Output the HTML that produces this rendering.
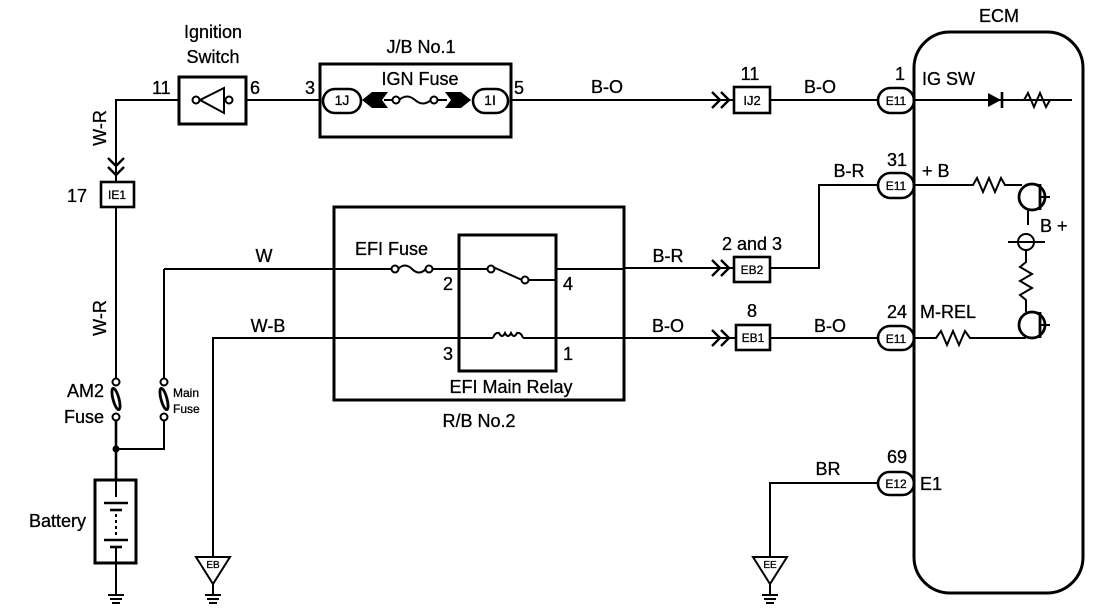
<!DOCTYPE html>
<html><head><meta charset="utf-8"><style>
html,body{margin:0;padding:0;background:#fff}
svg{display:block}
text{font-family:"Liberation Sans",sans-serif;fill:#000;stroke:#000;stroke-width:0.3}
</style></head><body>
<svg width="1104" height="612" viewBox="0 0 1104 612" xmlns="http://www.w3.org/2000/svg">
<g stroke="#000" stroke-width="2" fill="none">
<polyline points="179,100 116,100 116,182"/>
<polyline points="108,158 116,166 124,158" stroke-width="2.4"/>
<polyline points="108,167 116,175 124,167" stroke-width="2.4"/>
<rect x="101" y="182" width="33" height="25" stroke-width="2.6"/>
<line x1="116" y1="207" x2="116" y2="379"/>
<rect x="179" y="77" width="67" height="47" stroke-width="3"/>
<circle cx="196" cy="100" r="3.5"/>
<polygon points="200,100 224,88 224,113"/>
<circle cx="229" cy="100" r="3.5"/>
<line x1="246" y1="100" x2="320" y2="100"/>
<rect x="320" y="64" width="191" height="73" stroke-width="3"/>
<rect x="323" y="89" width="38" height="24" rx="12" stroke-width="2.6"/>
<rect x="473" y="89" width="35" height="24" rx="12" stroke-width="2.6"/>
<circle cx="396" cy="100" r="3.5"/>
<circle cx="434" cy="100" r="3.5"/>
<path d="M399,100 q8,-7 16,0 q8,7 16,0"/>
<line x1="384" y1="100" x2="393" y2="100"/>
<line x1="437" y1="100" x2="447" y2="100"/>
<line x1="511" y1="100" x2="734" y2="100"/>
<polyline points="712,92 720,100 712,108" stroke-width="2.4"/>
<polyline points="721,92 729,100 721,108" stroke-width="2.4"/>
<rect x="734" y="87" width="36" height="26" stroke-width="2.6"/>
<line x1="770" y1="100" x2="878" y2="100"/>
<rect x="878" y="88" width="36" height="25" rx="12.5" stroke-width="2.6"/>
<rect x="914" y="32" width="169" height="561" rx="36" stroke-width="3"/>
<line x1="914" y1="100" x2="1072" y2="100"/>
<line x1="1002" y1="92" x2="1002" y2="108" stroke-width="2.6"/>
<polyline points="1020,100 1024,100 1028,93 1034,107 1040,93 1046,107 1050,100 1072,100"/>
<rect x="878" y="173" width="36" height="25" rx="12.5" stroke-width="2.6"/>
<polyline points="878,185 819,185 819,268 770,268"/>
<rect x="734" y="257" width="36" height="25" stroke-width="2.6"/>
<polyline points="712,260 720,268 712,276" stroke-width="2.4"/>
<polyline points="721,260 729,268 721,276" stroke-width="2.4"/>
<line x1="624" y1="268" x2="734" y2="268"/>
<polyline points="914,185 973,185 977,178 983,192 989,178 995,192 1001,178 1005,185 1022,185"/>
<circle cx="1032" cy="197" r="13" stroke-width="2.8"/>
<line x1="1040" y1="184" x2="1040" y2="210" stroke-width="2.8"/>
<line x1="1040" y1="197" x2="1050" y2="197"/>
<line x1="1028" y1="210" x2="1028" y2="225"/>
<circle cx="1026" cy="242" r="8"/>
<line x1="1008" y1="242" x2="1045" y2="242"/>
<polyline points="1026,250 1026,262 1020,267 1032,274 1020,281 1032,288 1020,295 1026,300 1026,312"/>
<circle cx="1032" cy="325" r="13" stroke-width="2.8"/>
<line x1="1040" y1="312" x2="1040" y2="338" stroke-width="2.8"/>
<line x1="1040" y1="325" x2="1050" y2="325"/>
<rect x="878" y="326" width="36" height="24" rx="12" stroke-width="2.6"/>
<polyline points="914,338 936,338 941,331 947,345 953,331 959,345 965,331 970,338 1026,338"/>
<line x1="770" y1="338" x2="878" y2="338"/>
<rect x="736" y="325" width="34" height="25" stroke-width="2.6"/>
<polyline points="712,330 720,338 712,346" stroke-width="2.4"/>
<polyline points="721,330 729,338 721,346" stroke-width="2.4"/>
<line x1="556" y1="338" x2="736" y2="338"/>
<rect x="878" y="472" width="36" height="23" rx="11.5" stroke-width="2.6"/>
<polyline points="878,483 770,483 770,557"/>
<polygon points="753,557 787,557 770,584"/>
<line x1="770" y1="584" x2="770" y2="595"/>
<line x1="762" y1="595" x2="778" y2="595"/>
<line x1="764" y1="599" x2="776" y2="599"/>
<line x1="766" y1="603" x2="774" y2="603"/>
<rect x="334" y="207" width="290" height="193" stroke-width="3"/>
<rect x="459" y="235" width="97" height="136" stroke-width="3"/>
<line x1="164" y1="269" x2="392" y2="269"/>
<circle cx="395" cy="269" r="3.5"/>
<circle cx="429" cy="269" r="3.5"/>
<path d="M398,269 q7,-7 14,0 q7,7 14,0"/>
<line x1="432" y1="269" x2="488" y2="269"/>
<circle cx="491" cy="269" r="3.5"/>
<line x1="493" y1="267" x2="522" y2="280"/>
<circle cx="525" cy="280" r="3.5"/>
<polyline points="528,280 556,280 556,269 624,269"/>
<polyline points="213,557 213,338 493,338"/>
<path d="M493,338 q2,-6 6,-5 q3,6 6,0 q3,6 6,0 q3,6 6,0 q4,-1 6,5"/>
<line x1="523" y1="338" x2="556" y2="338"/>
<polygon points="196,557 230,557 213,584"/>
<line x1="213" y1="584" x2="213" y2="595"/>
<line x1="205" y1="595" x2="221" y2="595"/>
<line x1="207" y1="599" x2="219" y2="599"/>
<line x1="209" y1="603" x2="217" y2="603"/>
<circle cx="116" cy="382" r="3.5"/>
<circle cx="116" cy="417" r="3.5"/>
<ellipse cx="116" cy="399" rx="3" ry="11" transform="rotate(-15 116 399)" stroke-width="2.8"/>
<line x1="116" y1="420" x2="116" y2="480" stroke-width="2.6"/>
<circle cx="116" cy="449" r="2.5" fill="#000"/>
<polyline points="116,449 164,449 164,420"/>
<circle cx="164" cy="382" r="3.5"/>
<circle cx="164" cy="417" r="3.5"/>
<ellipse cx="164" cy="399" rx="3" ry="11" transform="rotate(-15 164 399)" stroke-width="2.8"/>
<line x1="164" y1="269" x2="164" y2="379"/>
<rect x="95" y="480" width="41" height="83" stroke-width="3"/>
<line x1="116" y1="480" x2="116" y2="497"/>
<line x1="104" y1="503" x2="128" y2="503" stroke-width="2.6"/>
<line x1="110" y1="510" x2="122" y2="510" stroke-width="2.6"/>
<line x1="116" y1="514" x2="116" y2="536" stroke-dasharray="3,3"/>
<line x1="104" y1="540" x2="128" y2="540" stroke-width="2.6"/>
<line x1="110" y1="547" x2="122" y2="547" stroke-width="2.6"/>
<line x1="116" y1="547" x2="116" y2="595"/>
<line x1="108" y1="595" x2="124" y2="595"/>
<line x1="110" y1="599" x2="122" y2="599"/>
<line x1="112" y1="603" x2="120" y2="603"/>
</g>
<polygon points="362,100 372,92 388,92 382,100 388,108 372,108" fill="#000"/>
<polygon points="471,100 461,92 445,92 451,100 445,108 461,108" fill="#000"/>
<polygon points="988,93 1001,100 988,107" fill="#000"/>
<g font-size="18">
<text x="213" y="38" text-anchor="middle">Ignition</text>
<text x="213" y="63" text-anchor="middle">Switch</text>
<text x="152" y="94">11</text>
<text x="250" y="94">6</text>
<text x="305" y="94">3</text>
<text x="514" y="94">5</text>
<text x="421" y="53" text-anchor="middle">J/B No.1</text>
<text x="420" y="85" text-anchor="middle">IGN Fuse</text>
<text x="607" y="93" text-anchor="middle">B-O</text>
<text x="750" y="80" text-anchor="middle">11</text>
<text x="820" y="93" text-anchor="middle">B-O</text>
<text x="900" y="80" text-anchor="middle">1</text>
<text x="999" y="22" text-anchor="middle">ECM</text>
<text x="922" y="85">IG SW</text>
<text x="897" y="166" text-anchor="middle">31</text>
<text x="922" y="177">+ B</text>
<text x="849" y="177" text-anchor="middle">B-R</text>
<text x="752" y="250" text-anchor="middle">2 and 3</text>
<text x="668" y="262" text-anchor="middle">B-R</text>
<text x="1040" y="232">B +</text>
<text x="897" y="318" text-anchor="middle">24</text>
<text x="920" y="318">M-REL</text>
<text x="752" y="317" text-anchor="middle">8</text>
<text x="668" y="332" text-anchor="middle">B-O</text>
<text x="830" y="332" text-anchor="middle">B-O</text>
<text x="897" y="463" text-anchor="middle">69</text>
<text x="920" y="490">E1</text>
<text x="828" y="475" text-anchor="middle">BR</text>
<text x="67" y="202">17</text>
<text x="264" y="262" text-anchor="middle">W</text>
<text x="268" y="332" text-anchor="middle">W-B</text>
<text x="355" y="255">EFI Fuse</text>
<text x="443" y="290">2</text>
<text x="563" y="290">4</text>
<text x="443" y="360">3</text>
<text x="563" y="360">1</text>
<text x="511" y="393" text-anchor="middle">EFI Main Relay</text>
<text x="479" y="427" text-anchor="middle">R/B No.2</text>
<text x="104" y="397" text-anchor="end">AM2</text>
<text x="104" y="423" text-anchor="end">Fuse</text>
<text x="86" y="527" text-anchor="end">Battery</text>
<text transform="translate(106,128) rotate(-90)" text-anchor="middle">W-R</text>
<text transform="translate(106,318) rotate(-90)" text-anchor="middle">W-R</text>
</g>
<g font-size="12">
<text x="173" y="397">Main</text>
<text x="173" y="413">Fuse</text>
<text x="117" y="199" text-anchor="middle">IE1</text>
<text x="342" y="105" text-anchor="middle" font-size="14">1J</text>
<text x="490" y="105" text-anchor="middle" font-size="14">1I</text>
<text x="752" y="105" text-anchor="middle" font-size="13">IJ2</text>
<text x="896" y="105" text-anchor="middle">E11</text>
<text x="896" y="190" text-anchor="middle">E11</text>
<text x="896" y="343" text-anchor="middle">E11</text>
<text x="896" y="488" text-anchor="middle">E12</text>
<text x="752" y="274" text-anchor="middle">EB2</text>
<text x="753" y="342" text-anchor="middle">EB1</text>
<text x="213" y="568" text-anchor="middle" font-size="10">EB</text>
<text x="770" y="568" text-anchor="middle" font-size="10">EE</text>
</g>
</svg>
</body></html>
